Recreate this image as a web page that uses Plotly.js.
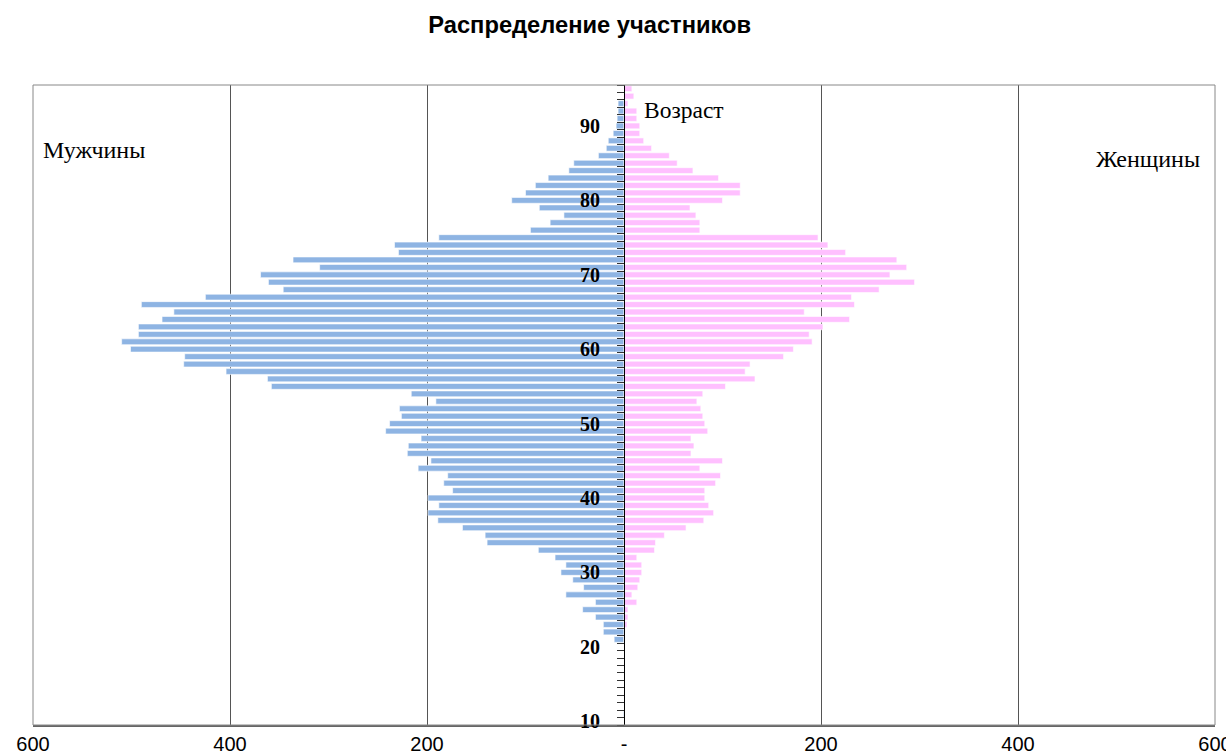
<!DOCTYPE html>
<html>
<head>
<meta charset="utf-8">
<script src="https://cdn.plot.ly/plotly-3.0.1.min.js"></script>
<style>html,body{margin:0;padding:0;background:#fff;}#chart{width:1226px;height:751px;}</style>
</head>
<body>
<div id="chart"></div>
<script>
// Ages 10..95
const ages = [10,11,12,13,14,15,16,17,18,19,20,21,22,23,24,25,26,27,28,29,30,31,32,33,34,35,36,37,38,39,40,41,42,43,44,45,46,47,48,49,50,51,52,53,54,55,56,57,58,59,60,61,62,63,64,65,66,67,68,69,70,71,72,73,74,75,76,77,78,79,80,81,82,83,84,85,86,87,88,89,90,91,92,93,94,95];
const men = [0,1,0,0,0,0,0,0,0,0,0,10,21,21,29,42,29,59,41,52,64,59,70,87,139,141,164,189,199,188,199,174,183,179,209,196,220,219,206,242,238,226,228,191,216,358,362,404,447,446,501,510,493,493,469,457,490,425,346,361,369,309,336,229,233,188,95,75,61,86,114,100,90,77,56,51,26,18,16,11,8,7,6,6,0,0];
const women = [0,0,0,0,0,0,0,0,0,0,0,0,1,3,4,4,13,8,14,16,18,18,13,31,32,41,63,81,91,86,82,82,93,98,77,100,68,71,68,85,82,80,78,74,80,103,133,123,128,162,172,191,188,202,229,183,234,231,259,295,270,287,277,225,207,197,77,77,73,67,100,118,118,96,70,54,46,28,20,16,16,13,13,4,10,8];
const xTickVals = [-600,-400,-200,0,200,400,600];
const xTickText = ['600','400','200','-','200','400','600'];
const titleText = 'Распределение участников';
const labelAge = 'Возраст';
const labelMen = 'Мужчины';
const labelWomen = 'Женщины';

const traces = [
  {type:'bar', orientation:'h', y:ages, x:men.map(v=>-v), name:labelMen,
   marker:{color:'#8EB4E3', line:{color:'#ffffff', width:0.6}}, hoverinfo:'skip'},
  {type:'bar', orientation:'h', y:ages, x:women, name:labelWomen,
   marker:{color:'#FFC0FF', line:{color:'#ffffff', width:0.6}}, hoverinfo:'skip'}
];

const serif = 'Liberation Serif, Times New Roman, serif';
const sans = 'Liberation Sans, Arial, sans-serif';

const layout = {
  width:1226, height:751,
  margin:{l:33, r:11, t:85, b:26},
  paper_bgcolor:'#fff', plot_bgcolor:'#fff',
  showlegend:false,
  barmode:'overlay', bargap:0.22,
  title:{text:'<b>'+titleText+'</b>', x:0.481, xanchor:'center', y:0.967, yanchor:'middle',
         font:{family:sans, size:23.7, color:'#000'}},
  xaxis:{range:[-600,600], tickmode:'array', tickvals:xTickVals, ticktext:xTickText,
         showgrid:true, gridcolor:'#555', gridwidth:1, zeroline:false,
         showline:true, linecolor:'#666', linewidth:2, mirror:false,
         ticks:'', ticklabeloverflow:'allow',
         tickfont:{family:sans, size:20, color:'#000'}, ticklabelstandoff:0, fixedrange:true},
  yaxis:{range:[9.5,95.5], anchor:'free', position:0.5,
         showline:true, linecolor:'#000', linewidth:1, showgrid:false, zeroline:false,
         tickmode:'linear', tick0:10, dtick:10, ticks:'', ticklabelstandoff:20,
         tickfont:{family:serif, size:20, color:'#000', weight:'bold'},
         minor:{ticks:'outside', tick0:9.5, dtick:1, ticklen:7, tickcolor:'#333', showgrid:false},
         fixedrange:true},
  shapes:[
    {type:'rect', xref:'paper', yref:'paper', x0:0, x1:1, y0:0, y1:1, line:{color:'#888', width:1}, fillcolor:'rgba(0,0,0,0)', layer:'above'}
  ],
  annotations:[
    {text:labelAge, xref:'x', yref:'y', x:18.5, y:92.1, xanchor:'left', yanchor:'middle', showarrow:false,
     font:{family:serif, size:23.5, color:'#000'}},
    {text:labelMen, xref:'x', yref:'y', x:-592, y:86.8, xanchor:'left', yanchor:'middle', showarrow:false,
     font:{family:serif, size:24, color:'#000'}},
    {text:labelWomen, xref:'x', yref:'y', x:477, y:85.6, xanchor:'left', yanchor:'middle', showarrow:false,
     font:{family:serif, size:24, color:'#000'}}
  ]
};

Plotly.newPlot('chart', traces, layout, {displayModeBar:false, staticPlot:true});
</script>
</body>
</html>
